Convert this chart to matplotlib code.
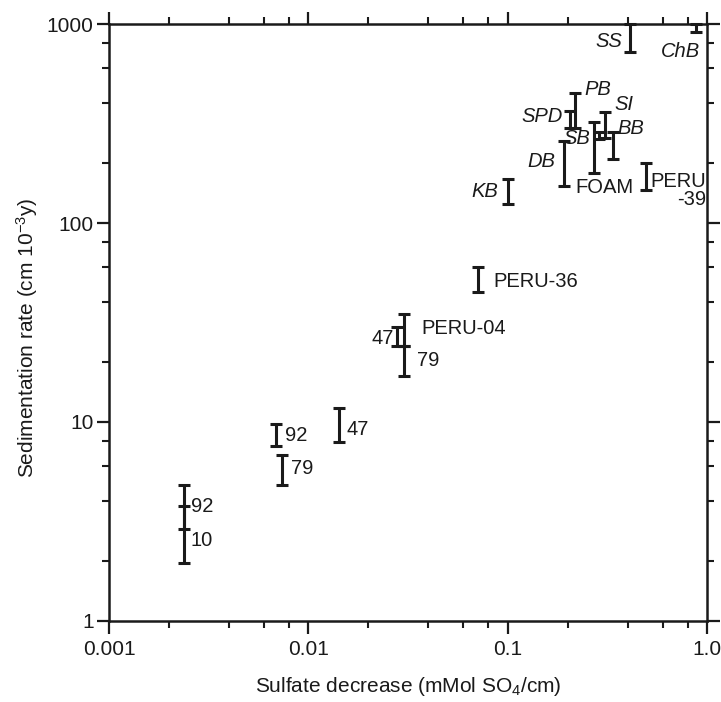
import numpy as np
import matplotlib
matplotlib.use("Agg")
import matplotlib.pyplot as plt

plt.rcParams["font.family"] = ["Liberation Sans", "DejaVu Sans"]
plt.rcParams["mathtext.default"] = "regular"

# -----------------------------------------
# Data: sulfate decrease vs sedimentation rate ranges
# -----------------------------------------
site_names = ["10", "92", "79", "92", "47", "47", "79", "PERU-04", "PERU-36",
              "KB", "DB", "SPD", "PB", "FOAM", "SB", "SI", "BB", "PERU\n-39",
              "SS", "ChB"]
sulfate = [0.00238, 0.00238, 0.0074, 0.00685, 0.0143, 0.0277, 0.0301, 0.0301,
           0.071, 0.100, 0.192, 0.205, 0.218, 0.270, 0.286, 0.308, 0.337,
           0.492, 0.413, 0.88]
rate_low = [1.95, 2.9, 4.8, 7.6, 7.9, 24, 17, 24, 45, 124, 154, 299, 299,
            179, 265, 268, 210, 146, 720, 915]
rate_high = [3.8, 4.8, 6.8, 9.8, 11.8, 30, 24, 35, 60, 166, 258, 365, 450,
             320, 288, 363, 287, 200, 1000, 1000]
italic_sites = {"KB", "DB", "SPD", "PB", "SB", "SI", "BB", "SS", "ChB"}

x_ticks = [0.001, 0.01, 0.1, 1.0]
x_tick_labels = ["0.001", "0.01", "0.1", "1.0"]
y_ticks = [1, 10, 100, 1000]
y_tick_labels = ["1", "10", "100", "1000"]

# label placement (offset in pixels from bar centre, horizontal alignment)
label_offsets = [(6, -6, "left"), (7, 1, "left"), (9, 2, "left"),
                 (9, -1, "left"), (7, -4, "left"), (-3, -2, "right"),
                 (13, 1, "left"), (18, 2, "left"), (15, -2, "left"),
                 (-10, 0, "right"), (-9, 2, "right"), (-7, 3, "right"),
                 (9, 21, "left"), (-18, -40, "left"), (-8, -3, "right"),
                 (9, 20, "left"), (5, 17, "left"), (5, -14, "left"),
                 (-8, -3, "right"), (-15, -24, "center")]

# -----------------------------------------
# Figure
# -----------------------------------------
fig = plt.figure(figsize=(7.21, 7.02), dpi=100)
ax = fig.add_axes([0.1512, 0.1154, 0.8294, 0.8504])
ax.set_xscale("log")
ax.set_yscale("log")
ax.set_xlim(0.001, 1.0)
ax.set_ylim(1, 1000)

lo = np.array(rate_low)
hi = np.array(rate_high)
mid = np.sqrt(lo * hi)
yerr = np.vstack([mid - lo, hi - mid])

ax.errorbar(sulfate, mid, yerr=yerr, fmt="none", ecolor="#1a1a1a",
            elinewidth=2.2, capsize=4, capthick=2.2, clip_on=False, zorder=3)

for name, x, y, (dx, dy, ha) in zip(site_names, sulfate, mid, label_offsets):
    style = "italic" if name in italic_sites else "normal"
    ax.annotate(name, (x, y), xytext=(dx, dy), textcoords="offset pixels",
                ha=ha, va="center", fontsize=14.5, fontstyle=style,
                color="#1a1a1a", multialignment="right", linespacing=0.95)

# -----------------------------------------
# Axes styling
# -----------------------------------------
ax.set_xticks(x_ticks)
ax.set_xticklabels(x_tick_labels)
ax.set_yticks(y_ticks)
ax.set_yticklabels(y_tick_labels)
ax.xaxis.set_minor_locator(matplotlib.ticker.LogLocator(base=10, subs=[2, 4, 6, 8]))
ax.yaxis.set_minor_locator(matplotlib.ticker.LogLocator(base=10, subs=[2, 4, 6, 8]))
ax.xaxis.set_minor_formatter(matplotlib.ticker.NullFormatter())
ax.yaxis.set_minor_formatter(matplotlib.ticker.NullFormatter())

ax.tick_params(which="both", direction="out", top=True, right=True,
               color="#1a1a1a", labelcolor="#1a1a1a")
ax.tick_params(which="major", length=9, width=1.6, labelsize=15)
ax.tick_params(axis="x", which="major", pad=5)
ax.tick_params(axis="y", which="major", pad=2)
ax.tick_params(which="minor", length=5, width=1.5)
for spine in ax.spines.values():
    spine.set_linewidth(1.8)
    spine.set_color("#1a1a1a")

ax.set_xlabel("Sulfate decrease (mMol SO$_4$/cm)", fontsize=15,
              color="#1a1a1a", labelpad=11)
ax.set_ylabel("Sedimentation rate (cm 10$^{-3}$y)", fontsize=15,
              color="#1a1a1a")
ax.yaxis.set_label_coords(-0.115, 0.474)

fig.savefig("out.png", dpi=100)
